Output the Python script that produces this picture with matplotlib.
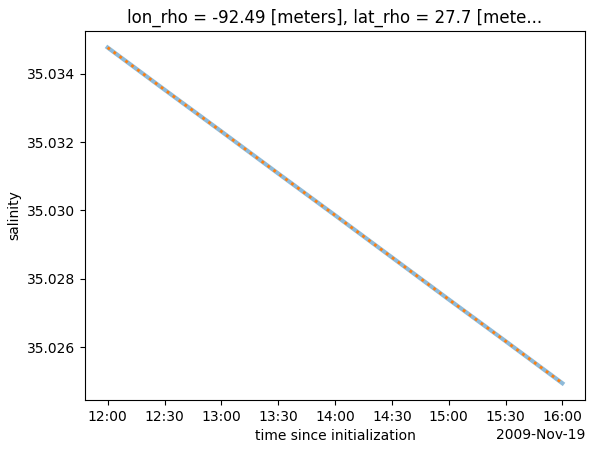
import matplotlib
matplotlib.use('Agg')
import matplotlib.pyplot as plt
import matplotlib.dates as mdates
import numpy as np

# half-hourly times on 2009-11-19
times = np.array(['2009-11-19T12:00', '2009-11-19T12:30', '2009-11-19T13:00',
                  '2009-11-19T13:30', '2009-11-19T14:00', '2009-11-19T14:30',
                  '2009-11-19T15:00', '2009-11-19T15:30', '2009-11-19T16:00'],
                 dtype='datetime64[m]')

# salinity
salt = [35.03476, 35.03353, 35.03231, 35.03108, 35.02986,
        35.02863, 35.02740, 35.02618, 35.02495]

fig = plt.figure(figsize=(5.94, 4.53), dpi=100)
ax = fig.add_axes([0.143, 0.117, 0.842, 0.815])

ax.plot(times, salt, lw=3, alpha=0.5, color='C0')
ax.plot(times, salt, lw=2, ls=':', color='C1')

loc = mdates.MinuteLocator(byminute=[0, 30])
fmt = mdates.ConciseDateFormatter(loc)
fmt.offset_formats = ['', '%Y', '%Y-%b', '%Y-%b-%d', '%Y-%b-%d', '%Y-%b-%d %H:%M']
ax.xaxis.set_major_locator(loc)
ax.xaxis.set_major_formatter(fmt)

ax.set_xlabel('time since initialization')
ax.set_ylabel('salinity')
ax.set_title('lon_rho = -92.49 [meters], lat_rho = 27.7 [mete...')

fig.savefig('out.png', dpi=100)
